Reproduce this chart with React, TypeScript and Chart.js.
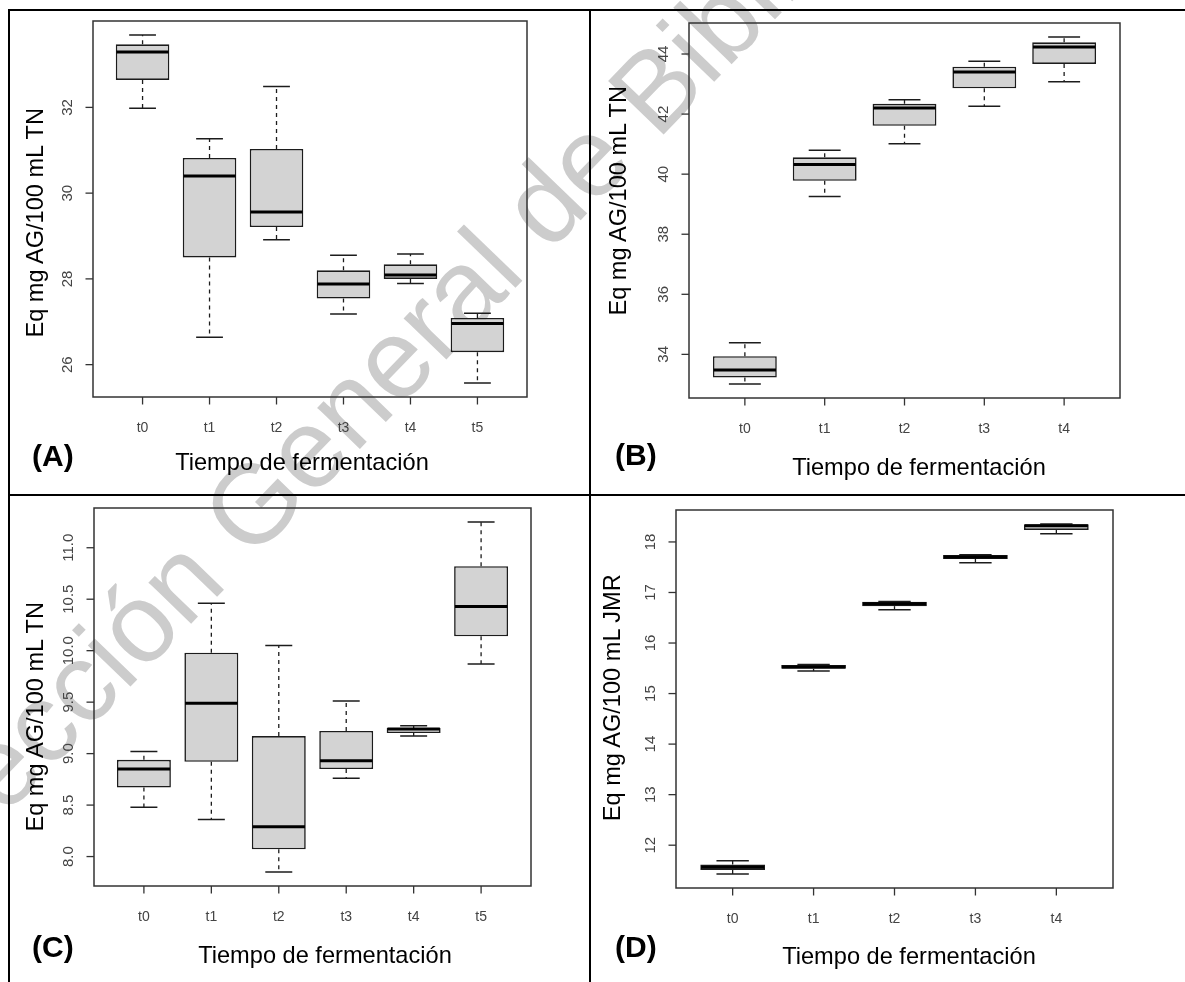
import React, { useEffect, useRef } from "react";
import { Chart, registerables } from "chart.js";

Chart.register(...registerables);

const FONT = '"Liberation Sans", Arial, Helvetica, sans-serif';

// ---------------- data ----------------
// Panel A
const catsA = ["t0", "t1", "t2", "t3", "t4", "t5"];
const lowA = [31.98, 26.64, 28.91, 27.18, 27.89, 25.57];
const q1A = [32.64, 28.5, 29.21, 27.54, 28.0, 26.29];
const medA = [33.29, 30.4, 29.56, 27.88, 28.09, 26.96];
const q3A = [33.47, 30.82, 31.03, 28.2, 28.34, 27.09];
const highA = [33.69, 31.27, 32.49, 28.55, 28.58, 27.2];
const yTicksA = [26, 28, 30, 32];
const yLabelsA = ["26", "28", "30", "32"];

// Panel B
const catsB = ["t0", "t1", "t2", "t3", "t4"];
const lowB = [33.01, 39.26, 41.01, 42.26, 43.08];
const q1B = [33.23, 39.78, 41.61, 42.86, 43.67];
const medB = [33.48, 40.32, 42.2, 43.4, 44.23];
const q3B = [33.94, 40.56, 42.34, 43.58, 44.39];
const highB = [34.39, 40.8, 42.48, 43.76, 44.57];
const yTicksB = [34, 36, 38, 40, 42, 44];
const yLabelsB = ["34", "36", "38", "40", "42", "44"];

// Panel C
const catsC = ["t0", "t1", "t2", "t3", "t4", "t5"];
const lowC = [8.48, 8.36, 7.85, 8.76, 9.17, 9.87];
const q1C = [8.67, 8.92, 8.07, 8.85, 9.2, 10.14];
const medC = [8.85, 9.49, 8.29, 8.93, 9.24, 10.43];
const q3C = [8.94, 9.98, 9.17, 9.22, 9.25, 10.82];
const highC = [9.02, 10.46, 10.05, 9.51, 9.27, 11.25];
const yTicksC = [8.0, 8.5, 9.0, 9.5, 10.0, 10.5, 11.0];
const yLabelsC = ["8.0", "8.5", "9.0", "9.5", "10.0", "10.5", "11.0"];

// Panel D
const catsD = ["t0", "t1", "t2", "t3", "t4"];
const lowD = [11.43, 15.445, 16.66, 17.59, 18.16];
const q1D = [11.51, 15.49, 16.73, 17.664, 18.237];
const medD = [11.566, 15.525, 16.776, 17.7, 18.32];
const q3D = [11.62, 15.565, 16.816, 17.743, 18.35];
const highD = [11.69, 15.575, 16.82, 17.745, 18.355];
const yTicksD = [12, 13, 14, 15, 16, 17, 18];
const yLabelsD = ["12", "13", "14", "15", "16", "17", "18"];

const xTitle = "Tiempo de fermentación";
const yTitleTN = "Eq mg AG/100 mL TN";
const yTitleJMR = "Eq mg AG/100 mL JMR";
const watermark = "Colección General de Biblioteca";

// ---------------- components ----------------
type Rect = { x: number; y: number; w: number; h: number };
type Pad = { left: number; top: number; right: number; bottom: number };

interface PanelProps {
  frame: Rect;
  pad: Pad;
  cats: string[];
  low: number[];
  q1: number[];
  med: number[];
  q3: number[];
  high: number[];
  yTicks: number[];
  yLabels: string[];
}

function BoxPanel(p: PanelProps) {
  const ref = useRef<HTMLCanvasElement | null>(null);
  useEffect(() => {
    const canvas = ref.current;
    if (!canvas) return;
    const n = p.cats.length;
    const lo = Math.min(...p.low);
    const hi = Math.max(...p.high);
    const ext = (hi - lo) * 0.04;
    const ink = "#1c1c1c";

    const rPlugin = {
      id: "rbox",
      afterDatasetsDraw(chart: any) {
        const ctx: CanvasRenderingContext2D = chart.ctx;
        const a = chart.chartArea;
        const xs = chart.scales.x;
        const ys = chart.scales.y;
        ctx.save();
        for (let i = 0; i < n; i++) {
          const cx = xs.getPixelForValue(i + 1);
          const half = xs.getPixelForValue(i + 1.4) - cx;
          const cap = xs.getPixelForValue(i + 1.2) - cx;
          const yLow = ys.getPixelForValue(p.low[i]);
          const yHigh = ys.getPixelForValue(p.high[i]);
          const yQ1 = ys.getPixelForValue(p.q1[i]);
          const yQ3 = ys.getPixelForValue(p.q3[i]);
          const yMed = ys.getPixelForValue(p.med[i]);
          ctx.strokeStyle = ink;
          // dashed whiskers
          ctx.lineWidth = 1.3;
          ctx.setLineDash([4, 4]);
          ctx.beginPath();
          if (yHigh < yQ3 - 1) {
            ctx.moveTo(cx, yQ3);
            ctx.lineTo(cx, yHigh);
          }
          if (yLow > yQ1 + 1) {
            ctx.moveTo(cx, yQ1);
            ctx.lineTo(cx, yLow);
          }
          ctx.stroke();
          ctx.setLineDash([]);
          // staples
          ctx.lineWidth = 1.5;
          ctx.beginPath();
          ctx.moveTo(cx - cap, yHigh);
          ctx.lineTo(cx + cap, yHigh);
          ctx.moveTo(cx - cap, yLow);
          ctx.lineTo(cx + cap, yLow);
          ctx.stroke();
          // median
          ctx.lineWidth = 3;
          ctx.strokeStyle = "#000";
          ctx.beginPath();
          ctx.moveTo(cx - half + 0.8, yMed);
          ctx.lineTo(cx + half - 0.8, yMed);
          ctx.stroke();
        }
        // frame
        ctx.strokeStyle = "#333";
        ctx.lineWidth = 1.5;
        ctx.strokeRect(a.left, a.top, a.right - a.left, a.bottom - a.top);
        // x ticks & labels
        ctx.fillStyle = "#444";
        ctx.font = `14px ${FONT}`;
        ctx.textAlign = "center";
        ctx.textBaseline = "alphabetic";
        ctx.lineWidth = 1.3;
        for (let i = 0; i < n; i++) {
          const cx = xs.getPixelForValue(i + 1);
          ctx.beginPath();
          ctx.moveTo(cx, a.bottom);
          ctx.lineTo(cx, a.bottom + 7.5);
          ctx.stroke();
          ctx.fillText(p.cats[i], cx, a.bottom + 35);
        }
        // y ticks & labels
        ctx.font = `15px ${FONT}`;
        p.yTicks.forEach((v, k) => {
          const yy = ys.getPixelForValue(v);
          ctx.beginPath();
          ctx.moveTo(a.left - 7.5, yy);
          ctx.lineTo(a.left, yy);
          ctx.stroke();
          ctx.save();
          ctx.translate(a.left - 21.5, yy);
          ctx.rotate(-Math.PI / 2);
          ctx.fillText(p.yLabels[k], 0, 0);
          ctx.restore();
        });
        ctx.restore();
      },
    };

    const chart = new Chart(canvas, {
      type: "bar",
      data: {
        datasets: [
          {
            data: p.cats.map((_, i) => ({ x: i + 1, y: [p.q1[i], p.q3[i]] })) as any,
            backgroundColor: "#d3d3d3",
            borderColor: ink,
            borderWidth: 1.6,
            borderSkipped: false,
            barPercentage: 0.8,
            categoryPercentage: 1,
          },
        ],
      },
      options: {
        responsive: false,
        animation: false,
        events: [],
        layout: { padding: p.pad },
        plugins: { legend: { display: false }, tooltip: { enabled: false } },
        scales: {
          x: {
            type: "linear",
            display: false,
            offset: false,
            grid: { offset: false },
            min: 0.5 - 0.04 * n,
            max: n + 0.5 + 0.04 * n,
            afterBuildTicks: (scale: any) => {
              scale.ticks = p.cats.map((_, i) => ({ value: i + 1 }));
            },
          },
          y: {
            type: "linear",
            display: false,
            min: lo - ext,
            max: hi + ext,
            afterBuildTicks: (scale: any) => {
              scale.ticks = p.yTicks.map((v) => ({ value: v }));
            },
          },
        },
      },
      plugins: [rPlugin],
    });
    return () => chart.destroy();
  }, []);
  return (
    <canvas
      ref={ref}
      width={p.frame.w}
      height={p.frame.h}
      style={{ position: "absolute", left: p.frame.x, top: p.frame.y, width: p.frame.w, height: p.frame.h }}
    />
  );
}

const BASE = 0.8465; // baseline offset (em) for line-height 1 in Liberation Sans

function HText(props: { cx?: number; left?: number; baseline: number; size: number; text: string; bold?: boolean }) {
  const { cx, left, baseline, size, text, bold } = props;
  const style: React.CSSProperties = {
    position: "absolute",
    top: baseline - BASE * size,
    fontSize: size,
    lineHeight: `${size}px`,
    fontWeight: bold ? 700 : 400,
    whiteSpace: "nowrap",
    color: "#000",
  };
  if (cx !== undefined) {
    style.left = cx - 300;
    style.width = 600;
    style.textAlign = "center";
  } else {
    style.left = left;
  }
  return <div style={style}>{text}</div>;
}

function VText(props: { baselineX: number; cy: number; size: number; text: string }) {
  const { baselineX, cy, size, text } = props;
  const cx = baselineX - (BASE - 0.5) * size;
  return (
    <div
      style={{
        position: "absolute",
        left: cx - 200,
        top: cy - size / 2,
        width: 400,
        height: size,
        fontSize: size,
        lineHeight: `${size}px`,
        textAlign: "center",
        whiteSpace: "nowrap",
        transform: "rotate(-90deg)",
        transformOrigin: "50% 50%",
        color: "#000",
      }}
    >
      {text}
    </div>
  );
}

function Line(props: { x: number; y: number; w: number; h: number }) {
  return <div style={{ position: "absolute", left: props.x, top: props.y, width: props.w, height: props.h, background: "#000" }} />;
}

export default function App() {
  const wmSize = 112;
  const wmX = -112;
  const wmY = 939;
  return (
    <div
      style={{
        position: "absolute",
        left: 0,
        top: 0,
        width: 1185,
        height: 982,
        overflow: "hidden",
        background: "#fff",
        fontFamily: FONT,
      }}
    >
      <div
        style={{
          position: "absolute",
          left: wmX,
          top: wmY - BASE * wmSize,
          fontSize: wmSize,
          lineHeight: `${wmSize}px`,
          whiteSpace: "nowrap",
          color: "#cccccc",
          transformOrigin: `0px ${BASE * wmSize}px`,
          transform: "rotate(-46deg)",
        }}
      >
        {watermark}
      </div>

      <BoxPanel
        frame={{ x: 0, y: 0, w: 590, h: 495 }}
        pad={{ left: 93, top: 21, right: 63, bottom: 98 }}
        cats={catsA}
        low={lowA}
        q1={q1A}
        med={medA}
        q3={q3A}
        high={highA}
        yTicks={yTicksA}
        yLabels={yLabelsA}
      />
      <BoxPanel
        frame={{ x: 590, y: 0, w: 595, h: 495 }}
        pad={{ left: 99, top: 23, right: 65, bottom: 97 }}
        cats={catsB}
        low={lowB}
        q1={q1B}
        med={medB}
        q3={q3B}
        high={highB}
        yTicks={yTicksB}
        yLabels={yLabelsB}
      />
      <BoxPanel
        frame={{ x: 0, y: 495, w: 590, h: 487 }}
        pad={{ left: 94, top: 13, right: 59, bottom: 96 }}
        cats={catsC}
        low={lowC}
        q1={q1C}
        med={medC}
        q3={q3C}
        high={highC}
        yTicks={yTicksC}
        yLabels={yLabelsC}
      />
      <BoxPanel
        frame={{ x: 590, y: 495, w: 595, h: 487 }}
        pad={{ left: 86, top: 15, right: 72, bottom: 94 }}
        cats={catsD}
        low={lowD}
        q1={q1D}
        med={medD}
        q3={q3D}
        high={highD}
        yTicks={yTicksD}
        yLabels={yLabelsD}
      />

      {/* axis titles */}
      <VText baselineX={44} cy={223} size={23.6} text={yTitleTN} />
      <VText baselineX={627} cy={201} size={23.6} text={yTitleTN} />
      <VText baselineX={44} cy={717} size={23.6} text={yTitleTN} />
      <VText baselineX={621} cy={698} size={23.6} text={yTitleJMR} />

      <HText cx={302} baseline={471} size={23.6} text={xTitle} />
      <HText cx={919} baseline={476} size={23.6} text={xTitle} />
      <HText cx={325} baseline={964} size={23.6} text={xTitle} />
      <HText cx={909} baseline={965} size={23.6} text={xTitle} />

      <HText left={32} baseline={466} size={30} bold text="(A)" />
      <HText left={615} baseline={465} size={30} bold text="(B)" />
      <HText left={32} baseline={957} size={30} bold text="(C)" />
      <HText left={615} baseline={957} size={30} bold text="(D)" />

      {/* table frame */}
      <Line x={8} y={9} w={1177} h={2} />
      <Line x={8} y={9} w={2} h={973} />
      <Line x={589} y={9} w={2} h={973} />
      <Line x={8} y={494} w={1177} h={2} />
    </div>
  );
}
